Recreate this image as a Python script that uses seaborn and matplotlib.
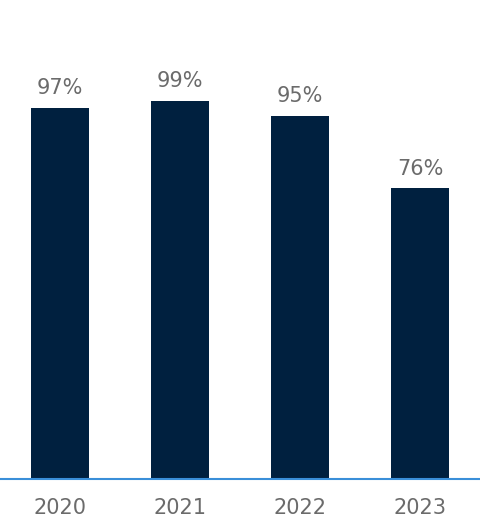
import matplotlib
matplotlib.use("Agg")
import matplotlib.pyplot as plt
import seaborn as sns
import pandas as pd

years = ["2020", "2021", "2022", "2023"]
values = [97, 99, 95, 76]
labels = ["97%", "99%", "95%", "76%"]

sns.set_style("white")
plt.rcParams['font.family'] = ['DejaVu Sans']

df = pd.DataFrame({"year": years, "value": values})

fig = plt.figure(figsize=(4.8, 5.18), dpi=100)
ax = fig.add_axes([0, 39/518, 1, 479/518])
sns.barplot(data=df, x="year", y="value", color="#00203F", width=0.49,
            saturation=1, linewidth=0, ax=ax)
ax.set_xlim(-0.5, 3.5)
ax.set_ylim(0, 125.3)
ax.bar_label(ax.containers[0], labels=labels, padding=7, fontsize=15,
             color="#6b6b6b")
for s in ["top", "right", "left"]:
    ax.spines[s].set_visible(False)
ax.spines["bottom"].set_color("#3a8fd9")
ax.spines["bottom"].set_linewidth(1.5)
ax.set_yticks([])
ax.set_xlabel("")
ax.set_ylabel("")
ax.tick_params(axis="x", length=0, pad=14, labelsize=15, labelcolor="#6b6b6b")
fig.savefig("out.png", dpi=100)
